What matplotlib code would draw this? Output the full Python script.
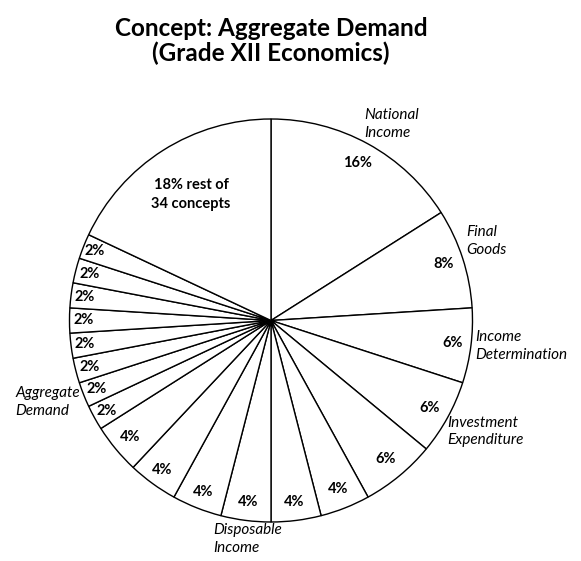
import numpy as np
import matplotlib
matplotlib.use("Agg")
import matplotlib.pyplot as plt

plt.rcParams['font.family'] = ['Lato', 'DejaVu Sans']

# ---- data ----
shares = [16, 8, 6, 6, 6, 4, 4, 4, 4, 4, 4, 2, 2, 2, 2, 2, 2, 2, 2, 18]
pct_labels = ['16%', '8%', '6%', '6%', '6%', '4%', '4%', '4%', '4%', '4%', '4%',
              '2%', '2%', '2%', '2%', '2%', '2%', '2%', '2%', '18% rest of\n34 concepts']
concept_names = ['National\nIncome', 'Final\nGoods', 'Income\nDetermination',
                 'Investment\nExpenditure', '', '', '', 'Disposable\nIncome', '', '', '',
                 '', 'Aggregate\nDemand', '', '', '', '', '', '', '']

# ---- style (per-slice label placement) ----
pct_dist = [0.89, 0.90, 0.91, 0.90, 0.89, 0.90, 0.91, 0.91, 0.915, 0.915, 0.91,
            0.93, 0.93, 0.93, 0.93, 0.93, 0.93, 0.93, 0.94, 0.74]
# dist, ha, va, offset in pixels (dx, dy)
name_style = {0: (1.00, 'left', 'bottom', (-4, 4)), 1: (1.02, 'left', 'bottom', (0, 0)),
              2: (1.02, 'left', 'center', (0, 0)), 3: (1.0, 'left', 'top', (0, 2)),
              7: (1.01, 'center', 'top', (2, -1)), 12: (1.04, 'right', 'center', (4, -4))}

W, H = 581, 561
fig = plt.figure(figsize=(W / 100, H / 100), dpi=100)
cx, cy, r = 271, 320.5, 201.5
ax = fig.add_axes([(cx - r) / W, (H - cy - r) / H, 2 * r / W, 2 * r / H])

wedges, _ = ax.pie(shares, startangle=90, counterclock=False, radius=1,
                   colors=['white'] * len(shares),
                   wedgeprops=dict(edgecolor='black', linewidth=1.0))
ax.set_xlim(-1, 1)
ax.set_ylim(-1, 1)
ax.set_aspect('equal')
ax.axis('off')

for i, w in enumerate(wedges):
    ang = np.deg2rad((w.theta1 + w.theta2) / 2)
    d = pct_dist[i]
    ax.text(d * np.cos(ang), d * np.sin(ang), pct_labels[i], ha='center', va='center',
            fontsize=10.5, fontweight='bold', linespacing=1.45)
    if concept_names[i]:
        dist, ha, va, (dx, dy) = name_style[i]
        ax.annotate(concept_names[i], (dist * np.cos(ang), dist * np.sin(ang)),
                    xytext=(dx * 0.72, dy * 0.72), textcoords='offset points',
                    ha=ha, va=va, fontsize=11, fontstyle='italic',
                    multialignment='left', linespacing=1.35, annotation_clip=False)

fig.text(271 / W, 1 - 41 / H, 'Concept: Aggregate Demand\n(Grade XII Economics)',
         ha='center', va='center', fontsize=17.5, fontweight='bold', linespacing=1.1)

fig.savefig('out.png', dpi=100, facecolor='white')
